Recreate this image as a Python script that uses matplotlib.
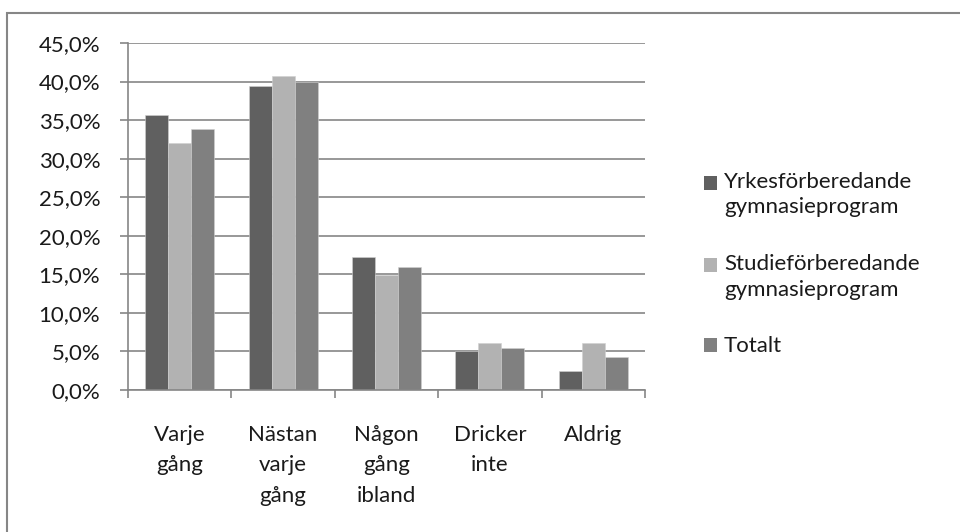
import numpy as np
import matplotlib.pyplot as plt
from matplotlib.patches import Rectangle
from matplotlib.legend_handler import HandlerPatch, update_from_first_child

categories = ['Varje\ngång', 'Nästan\nvarje\ngång', 'Någon\ngång\nibland', 'Dricker\ninte', 'Aldrig']
yrkes = [35.7, 39.4, 17.2, 5.0, 2.4]
studie = [32.0, 40.7, 14.9, 6.1, 6.1]
totalt = [33.9, 40.0, 15.9, 5.5, 4.3]
series_names = ['Yrkesförberedande\ngymnasieprogram', 'Studieförberedande\ngymnasieprogram', 'Totalt']
colors = ['#606060', '#b2b2b2', '#808080']

plt.rcParams['font.family'] = ['Lato', 'DejaVu Sans']
plt.rcParams['font.size'] = 16

fig = plt.figure(figsize=(9.6, 5.32), dpi=100)
ax = fig.add_axes([128/960, 1-390/532, 517/960, 347/532])

x = np.arange(len(categories))
w = 1/4.5
bars = []
for i, (vals, name) in enumerate(zip([yrkes, studie, totalt], series_names)):
    b = ax.bar(x + (i-1)*w, vals, width=w, color=colors[i], label=name, zorder=2,
               edgecolor='#d0d0d0', linewidth=0.4)
    bars.append(b)

ax.set_xlim(-0.5, len(categories)-0.5)
ax.set_ylim(0, 45)
ax.set_yticks(np.arange(0, 46, 5))
ax.set_yticklabels([f'{v:.1f}%'.replace('.', ',') for v in np.arange(0, 46, 5)], color='#1a1a1a')
ax.yaxis.grid(True, color='#868686', linewidth=1.2)
ax.set_axisbelow(True)

ax.set_xticks(x)
ax.set_xticklabels(categories, linespacing=1.65, va='top', color='#1a1a1a')
ax.tick_params(axis='x', length=0, pad=25)
ax.set_xticks(np.arange(-0.5, len(categories)), minor=True)
ax.tick_params(axis='x', which='minor', length=6, color='#868686', width=1.2)
ax.tick_params(axis='y', length=6, color='#868686', width=1.2, pad=14)

for s in ['top', 'right']:
    ax.spines[s].set_visible(False)
for s in ['left', 'bottom']:
    ax.spines[s].set_color('#868686')
    ax.spines[s].set_linewidth(1.2)


# square legend key sits on the first line of a two-line label
def top_square(legend, orig_handle, xdescent, ydescent, width, height, fontsize):
    return Rectangle((-xdescent, -ydescent + 0.55*fontsize), width, height)


top_handler = HandlerPatch(patch_func=top_square, update_func=update_from_first_child)
hmap = {bars[0]: top_handler, bars[1]: top_handler}

leg = ax.legend(loc='upper left', bbox_to_anchor=(695/960, 1-163/532), bbox_transform=fig.transFigure,
                frameon=False, handlelength=0.6, handleheight=0.6, handletextpad=0.3,
                labelspacing=1.65, fontsize=16, borderaxespad=0, handler_map=hmap)
for t in leg.get_texts():
    t.set_linespacing(1.35)
    t.set_color('#1a1a1a')
for p in leg.get_patches():
    p.set_edgecolor('none')

fig.patches.append(Rectangle((7/960, -0.1), 1.1, 1-13/532+0.1, transform=fig.transFigure,
                             fill=False, edgecolor='#868686', linewidth=1.5))

fig.savefig('out.png', dpi=100)
